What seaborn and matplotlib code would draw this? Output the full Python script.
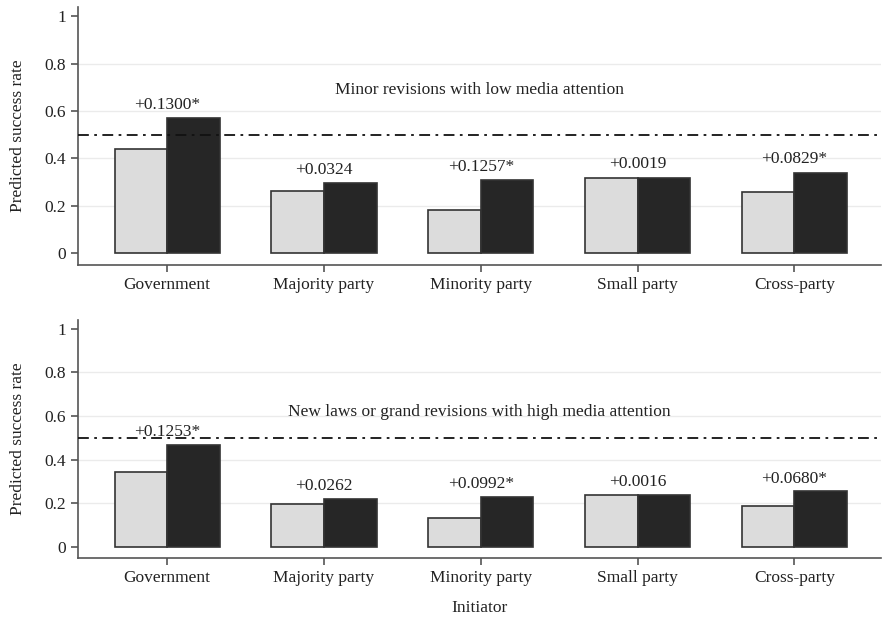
import pandas as pd
import matplotlib
matplotlib.use("Agg")
import matplotlib.pyplot as plt
import seaborn as sns

initiators = ["Government", "Majority party", "Minority party", "Small party", "Cross-party"]

# panel 1: minor revisions, low media attention
low_base = [0.440, 0.263, 0.182, 0.316, 0.256]
low_alt = [0.570, 0.295, 0.308, 0.318, 0.339]
low_labels = ["+0.1300*", "+0.0324", "+0.1257*", "+0.0019", "+0.0829*"]

# panel 2: new laws / grand revisions, high media attention
high_base = [0.343, 0.195, 0.131, 0.238, 0.187]
high_alt = [0.468, 0.221, 0.230, 0.240, 0.255]
high_labels = ["+0.1253*", "+0.0262", "+0.0992*", "+0.0016", "+0.0680*"]

titles = ["Minor revisions with low media attention",
          "New laws or grand revisions with high media attention"]
title_y = [0.69, 0.62]

sns.set_style("white")
plt.rcParams["font.family"] = ["Liberation Serif", "DejaVu Serif"]

fig = plt.figure(figsize=(8.85, 6.2), dpi=100)
ax1 = fig.add_axes([0.088, 0.573, 0.907, 0.416])
ax2 = fig.add_axes([0.088, 0.100, 0.907, 0.384])

panels = [(ax1, low_base, low_alt, low_labels),
          (ax2, high_base, high_alt, high_labels)]

for k, (ax, base, alt, labs) in enumerate(panels):
    df = pd.DataFrame({
        "Initiator": initiators * 2,
        "rate": base + alt,
        "grp": ["a"] * len(base) + ["b"] * len(alt),
    })
    for y in [0.2, 0.4, 0.6, 0.8]:
        ax.axhline(y, color="#ebebeb", lw=1, zorder=0)
    sns.barplot(data=df, x="Initiator", y="rate", hue="grp",
                palette=["#dcdcdc", "#262626"], width=0.67,
                edgecolor="#333333", linewidth=1.2, ax=ax, legend=False,
                zorder=2)
    ax.axhline(0.5, color="#111111", lw=1.3, ls=(0, (6, 3, 1.5, 3)), zorder=3)
    for i, lab in enumerate(labs):
        ax.text(i, max(base[i], alt[i]) + 0.022, lab, ha="center", va="bottom",
                fontsize=12.5, color="#222222")
    ax.text(0.5, title_y[k], titles[k], transform=ax.get_yaxis_transform(),
            ha="center", va="center", fontsize=12.5, color="#222222")
    ax.set_ylim(-0.05, 1.04)
    ax.set_xlim(-0.57, 4.55)
    ax.set_yticks([0, 0.2, 0.4, 0.6, 0.8, 1])
    ax.set_yticklabels(["0", "0.2", "0.4", "0.6", "0.8", "1"])
    ax.set_ylabel("Predicted success rate", fontsize=12.5, color="#222222",
                  labelpad=13)
    ax.set_xlabel("")
    for side in ["top", "right"]:
        ax.spines[side].set_visible(False)
    for side in ["left", "bottom"]:
        ax.spines[side].set_color("#555555")
        ax.spines[side].set_linewidth(1.2)
    ax.tick_params(axis="both", direction="out", length=5, width=1.2,
                   color="#555555", labelsize=12.5, labelcolor="#222222",
                   left=True, bottom=True)

ax2.set_xlabel("Initiator", fontsize=12.5, color="#222222", labelpad=10)

fig.savefig("out.png", dpi=100)
